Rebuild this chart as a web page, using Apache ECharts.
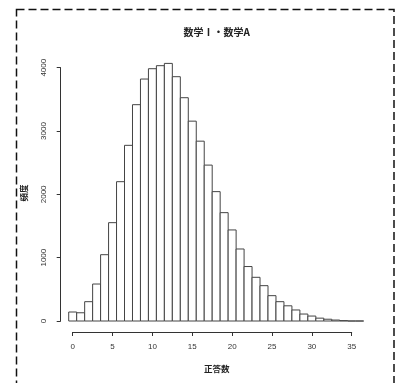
<!DOCTYPE html>
<html>
<head>
<meta charset="utf-8">
<script src="https://cdn.jsdelivr.net/npm/echarts@6/dist/echarts.min.js"></script>
<style>
html,body{margin:0;padding:0;background:#fff;}
#c{width:403px;height:383px;}
</style>
</head>
<body>
<div id="c"></div>
<script>
// Number of correct answers (bin centers)
const scores = [0,1,2,3,4,5,6,7,8,9,10,11,12,13,14,15,16,17,18,19,20,21,22,23,24,25,26,27,28,29,30,31,32,33,34,35,36];
// Frequency per bin
const freq = [142,130,305,584,1047,1553,2200,2774,3416,3821,3984,4032,4068,3858,3526,3156,2840,2462,2043,1711,1438,1137,860,690,558,400,305,240,174,110,78,45,28,15,6,0,0];
const xTicks = [0,5,10,15,20,25,30,35];
const yTicks = [0,1000,2000,3000,4000];
const titleText = '数学Ⅰ・数学A';
const xName = '正答数';
const yName = '頻度';

const data = scores.map((s, i) => [s, freq[i]]);
const chart = echarts.init(document.getElementById('c'), null, {renderer: 'canvas'});
const fontLab = 'Liberation Sans, DejaVu Sans, sans-serif';
const fontJP = '"Noto Sans CJK JP", sans-serif';

chart.setOption({
  backgroundColor: '#fff',
  animation: false,
  grid: {left: 72.7, right: 403 - 351.7, top: 67.7, bottom: 383 - 321, containLabel: false},
  xAxis: {
    type: 'value', min: xTicks[0], max: xTicks[xTicks.length - 1], interval: 5,
    offset: 11,
    axisLine: {show: true, onZero: false, lineStyle: {color: '#333', width: 1}},
    axisTick: {show: true, length: 4, lineStyle: {color: '#333', width: 1}},
    axisLabel: {fontSize: 8, color: '#333', margin: 11, fontFamily: fontLab},
    splitLine: {show: false}
  },
  yAxis: {
    type: 'value', min: yTicks[0], max: yTicks[yTicks.length - 1], interval: 1000,
    offset: 12,
    axisLine: {show: true, onZero: false, lineStyle: {color: '#333', width: 1}},
    axisTick: {show: true, length: 4, lineStyle: {color: '#333', width: 1}},
    axisLabel: {fontSize: 8, color: '#333', margin: 13, rotate: 90, fontFamily: fontLab,
                formatter: function (v) { return String(v); }},
    splitLine: {show: false}
  },
  series: [{
    type: 'custom',
    clip: false,
    data: data,
    encode: {x: 0, y: 1},
    renderItem: function (params, api) {
      const x = api.value(0), v = api.value(1);
      const p0 = api.coord([x - 0.5, v]);
      const p1 = api.coord([x + 0.5, 0]);
      return {
        type: 'rect',
        shape: {x: p0[0], y: p0[1], width: p1[0] - p0[0], height: p1[1] - p0[1]},
        style: {fill: '#fff', stroke: '#444', lineWidth: 1}
      };
    }
  }],
  graphic: [
    {type: 'rect', silent: true, shape: {x: 16.5, y: 9.5, width: 377.5, height: 400},
     style: {fill: 'none', stroke: '#111', lineWidth: 1.5, lineDash: [8, 4]}},
    {type: 'text', x: 216.7, y: 32.3, style: {text: titleText, font: 'bold 10px ' + fontJP, fill: '#222', align: 'center', verticalAlign: 'middle'}},
    {type: 'text', x: 216.7, y: 369, style: {text: xName, font: 'bold 8.5px ' + fontJP, fill: '#222', align: 'center', verticalAlign: 'middle'}},
    {type: 'text', x: 23.3, y: 193, rotation: Math.PI / 2, style: {text: yName, font: 'bold 8.5px ' + fontJP, fill: '#222', align: 'center', verticalAlign: 'middle'}}
  ]
});
</script>
</body>
</html>
